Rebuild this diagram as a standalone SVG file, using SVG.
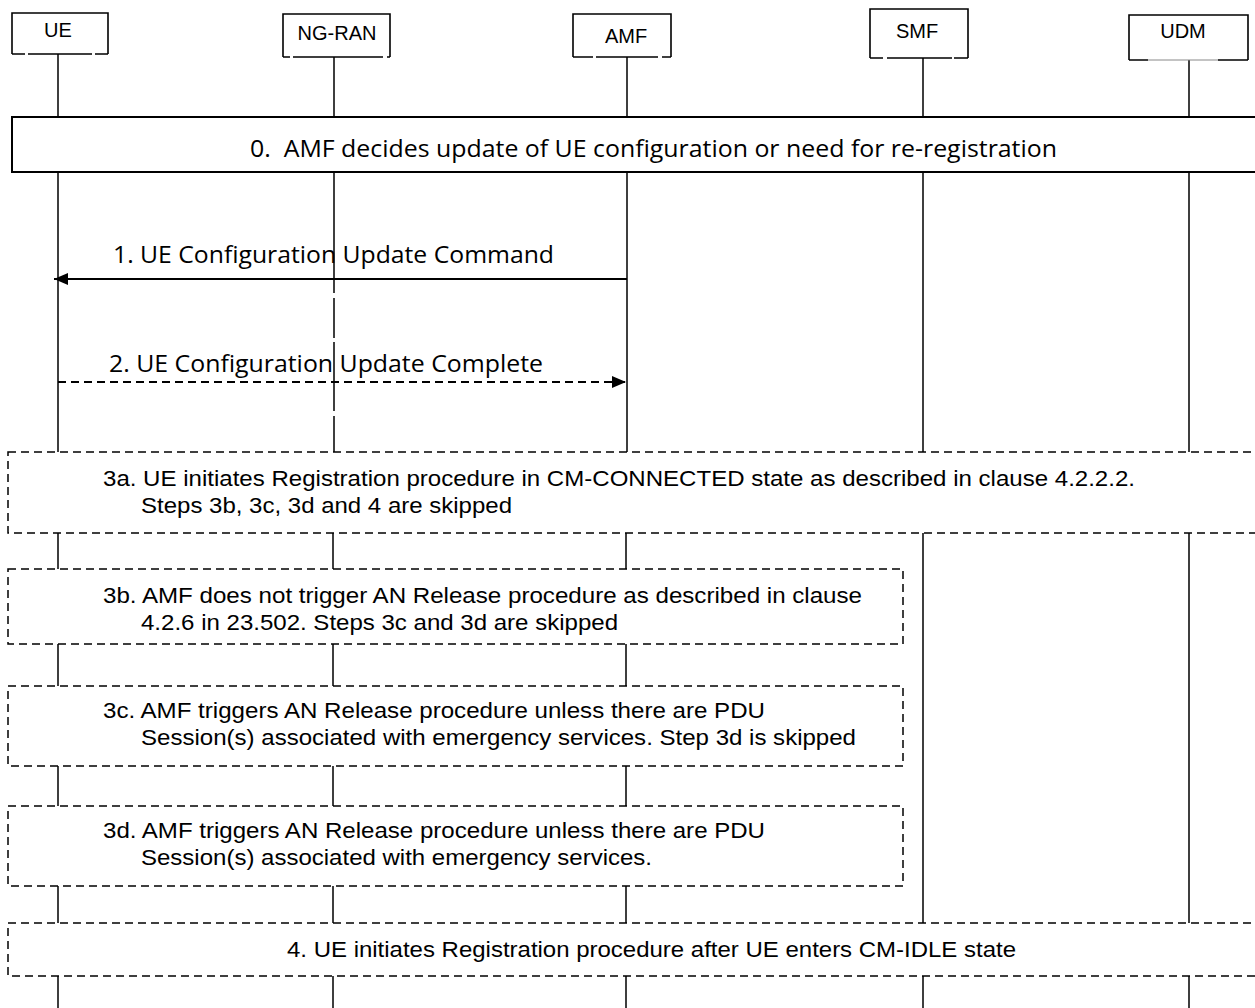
<svg xmlns="http://www.w3.org/2000/svg" width="1255" height="1008" viewBox="0 0 1255 1008">
<style>
.bx{fill:none;stroke:#000;stroke-width:1.6}
.bb{fill:none;stroke:#000;stroke-width:2}
.ll{stroke:#000;stroke-width:1.5;fill:none}
.db{fill:none;stroke:#000;stroke-width:1.5;stroke-dasharray:8 5}
.hd{font-family:"Liberation Sans",Arial,sans-serif;font-size:20px;fill:#000;text-anchor:middle}
.lb{font-family:"Open Sans","Noto Sans",sans-serif;font-size:23px;fill:#000}
.tx{font-family:"Liberation Sans",Arial,sans-serif;font-size:22px;fill:#000}
.msg{stroke:#000;stroke-width:2;fill:none}
.msgd{stroke:#000;stroke-width:2;fill:none;stroke-dasharray:8 5}
</style>
<defs>
<marker id="ah" markerUnits="userSpaceOnUse" markerWidth="14" markerHeight="12" refX="14" refY="6" orient="auto">
<path d="M0,0 L14,6 L0,12 z" fill="#000"/>
</marker>
</defs>
<rect width="1255" height="1008" fill="#fff"/>

<g id="lifelines">
<path class="ll" d="M58,54V117M58,172V452M58,533V569M58,644V686M58,766V806M58,886V923M58,976V1008"/>
<path class="ll" d="M334,57V117M334,172V293M334,298V338M334,342V411M334,416V452M333,533V569M333,644V686M333,766V806M333,886V923M333,976V1008"/>
<path class="ll" d="M627,57V117M627,172V452M626,533V569M626,644V686M626,766V806M626,886V923M626,976V1008"/>
<path class="ll" d="M923,58V117M923,172V452M923,533V923M923,976V1008"/>
<path class="ll" d="M1189,60V117M1189,172V452M1189,533V923M1189,976V1008"/>
</g>

<g id="node-UE">
<path class="bx" d="M12,54V13H108V54M12,54H25M28,54H92M95,54H108"/>
<text class="hd" x="58" y="37">UE</text>
</g>
<g id="node-NGRAN">
<path class="bx" d="M283,57V14H390V57M283,57H290M293,57H383M387,57H390"/>
<text class="hd" x="337" y="40">NG-RAN</text>
</g>
<g id="node-AMF">
<path class="bx" d="M573,57V14H671V57M573,57H593M596,57H658M662,57H671"/>
<text class="hd" x="626" y="43">AMF</text>
</g>
<g id="node-SMF">
<path class="bx" d="M870,58V9H968V58M870,58H883M887,58H952M954,58H968"/>
<text class="hd" x="917" y="38">SMF</text>
</g>
<g id="node-UDM">
<path class="bx" d="M1129,60V15H1248V60M1129,60H1148M1218,60H1248"/>
<path d="M1148,60H1218" stroke="#888" stroke-width="1" fill="none"/>
<text class="hd" x="1183" y="38">UDM</text>
</g>

<g id="step0">
<rect class="bb" x="12" y="117" width="1260" height="55"/>
<text class="lb" x="250" y="157" textLength="807" lengthAdjust="spacingAndGlyphs">0.&#160; AMF decides update of UE configuration or need for re-registration</text>
</g>

<g id="connectors">
<line class="msg" x1="627" y1="279" x2="54" y2="279" marker-end="url(#ah)"/>
<text class="lb" x="113" y="263" textLength="441" lengthAdjust="spacingAndGlyphs">1. UE Configuration Update Command</text>
<line class="msgd" x1="58" y1="382" x2="626" y2="382" marker-end="url(#ah)"/>
<text class="lb" x="109" y="372" textLength="434" lengthAdjust="spacingAndGlyphs">2. UE Configuration Update Complete</text>
</g>

<g id="step3a">
<rect class="db" x="8" y="452" width="1260" height="81"/>
<text class="tx" x="103" y="486" textLength="1032" lengthAdjust="spacingAndGlyphs">3a. UE initiates Registration procedure in CM-CONNECTED state as described in clause 4.2.2.2.</text>
<text class="tx" x="141" y="513" textLength="371" lengthAdjust="spacingAndGlyphs">Steps 3b, 3c, 3d and 4 are skipped</text>
</g>
<g id="step3b">
<rect class="db" x="8" y="569" width="895" height="75"/>
<text class="tx" x="103" y="603" textLength="759" lengthAdjust="spacingAndGlyphs">3b. AMF does not trigger AN Release procedure as described in clause</text>
<text class="tx" x="141" y="630" textLength="477" lengthAdjust="spacingAndGlyphs">4.2.6 in 23.502. Steps 3c and 3d are skipped</text>
</g>
<g id="step3c">
<rect class="db" x="8" y="686" width="895" height="80"/>
<text class="tx" x="103" y="718" textLength="662" lengthAdjust="spacingAndGlyphs">3c. AMF triggers AN Release procedure unless there are PDU</text>
<text class="tx" x="141" y="745" textLength="715" lengthAdjust="spacingAndGlyphs">Session(s) associated with emergency services. Step 3d is skipped</text>
</g>
<g id="step3d">
<rect class="db" x="8" y="806" width="895" height="80"/>
<text class="tx" x="103" y="838" textLength="662" lengthAdjust="spacingAndGlyphs">3d. AMF triggers AN Release procedure unless there are PDU</text>
<text class="tx" x="141" y="865" textLength="511" lengthAdjust="spacingAndGlyphs">Session(s) associated with emergency services.</text>
</g>
<g id="step4">
<rect class="db" x="8" y="923" width="1260" height="53"/>
<text class="tx" x="287" y="957" textLength="729" lengthAdjust="spacingAndGlyphs">4. UE initiates Registration procedure after UE enters CM-IDLE state</text>
</g>
</svg>
